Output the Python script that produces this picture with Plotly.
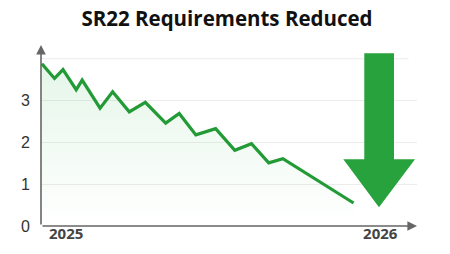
import plotly.graph_objects as go

# Data (x in fractional years, y in requirement units)
x_years = [2024.923, 2024.963, 2024.990, 2025.032, 2025.051, 2025.108, 2025.148,
           2025.201, 2025.252, 2025.317, 2025.360, 2025.413, 2025.476, 2025.537,
           2025.590, 2025.645, 2025.690, 2025.915]
y_values = [3.88, 3.53, 3.74, 3.26, 3.49, 2.82, 3.21, 2.73, 2.96, 2.46, 2.69,
            2.18, 2.33, 1.81, 1.97, 1.51, 1.61, 0.55]
x_tick_vals = [2025, 2026]
x_tick_text = ["2025", "2026"]
y_tick_vals = [0, 1, 2, 3]
y_tick_text = ["0", "1", "2", "3"]

W, H = 450, 254
ML, MR, MT, MB = 41, 33, 45, 28
X0, X1 = 2024.92, 2026.117
Y0, Y1 = 0, 4.33

GREEN = "#229a35"
ARROW_GREEN = "#28a23c"

fig = go.Figure()
fig.add_trace(go.Scatter(
    x=x_years, y=y_values, mode="lines",
    line=dict(color=GREEN, width=3.2),
    fill="tozeroy",
    fillgradient=dict(type="vertical",
                      colorscale=[[0, "rgba(40,180,70,0.0)"], [1, "rgba(40,180,70,0.12)"]]),
    hoverinfo="skip", showlegend=False,
))

# gridline at 4 (no label)
fig.add_shape(type="line", xref="x", yref="y", x0=X0, x1=2026.09, y0=4, y1=4,
              line=dict(color="#ececec", width=1), layer="below")

# big downward arrow in paper coordinates converted from pixel positions
pw = W - ML - MR
ph = H - MT - MB
def px(xp):
    return (xp - ML) / pw
def py(yp):
    return (H - MB - yp) / ph
pts = [(364.3, 53.3), (394, 53.3), (394, 159.3), (415, 159.3), (379, 207.3),
       (343.3, 159.3), (364.3, 159.3)]
path = "M " + " L ".join(f"{px(a):.4f},{py(b):.4f}" for a, b in pts) + " Z"
fig.add_shape(type="path", xref="paper", yref="paper", path=path,
              fillcolor=ARROW_GREEN, line=dict(width=0), layer="above")

# axis arrows
fig.add_annotation(xref="paper", yref="paper", x=1.0, y=0, ax=-pw, ay=0,
                   axref="pixel", ayref="pixel", text="", showarrow=True,
                   arrowhead=2, arrowsize=1.2, arrowwidth=1.6, arrowcolor="#666")
fig.add_annotation(xref="paper", yref="paper", x=0, y=1.0, ax=0, ay=ph,
                   axref="pixel", ayref="pixel", text="", showarrow=True,
                   arrowhead=2, arrowsize=1.2, arrowwidth=1.6, arrowcolor="#666")

fig.update_layout(
    width=W, height=H,
    margin=dict(l=ML, r=MR, t=MT, b=MB, autoexpand=False),
    paper_bgcolor="white", plot_bgcolor="white",
    title=dict(text="<b>SR22 Requirements Reduced</b>", x=227 / W, xanchor="center",
               y=1 - 18.5 / H, yanchor="middle",
               font=dict(family="Open Sans", size=20.5, color="#111")),
    xaxis=dict(range=[X0, X1], tickvals=x_tick_vals, ticktext=x_tick_text,
               showgrid=False, zeroline=False, showline=False, ticks="",
               automargin=False,
               tickfont=dict(family="Open Sans", size=15, color="#444", weight="bold"),
               ticklabelstandoff=-3),
    yaxis=dict(range=[Y0, Y1], tickvals=y_tick_vals, ticktext=y_tick_text,
               showgrid=True, gridcolor="#ececec", gridwidth=1, zeroline=False,
               showline=False, ticks="", automargin=False,
               tickfont=dict(family="Liberation Sans", size=16, color="#333"),
               ticklabelstandoff=10),
    font=dict(family="Open Sans"),
)
fig.write_html("out.html")
